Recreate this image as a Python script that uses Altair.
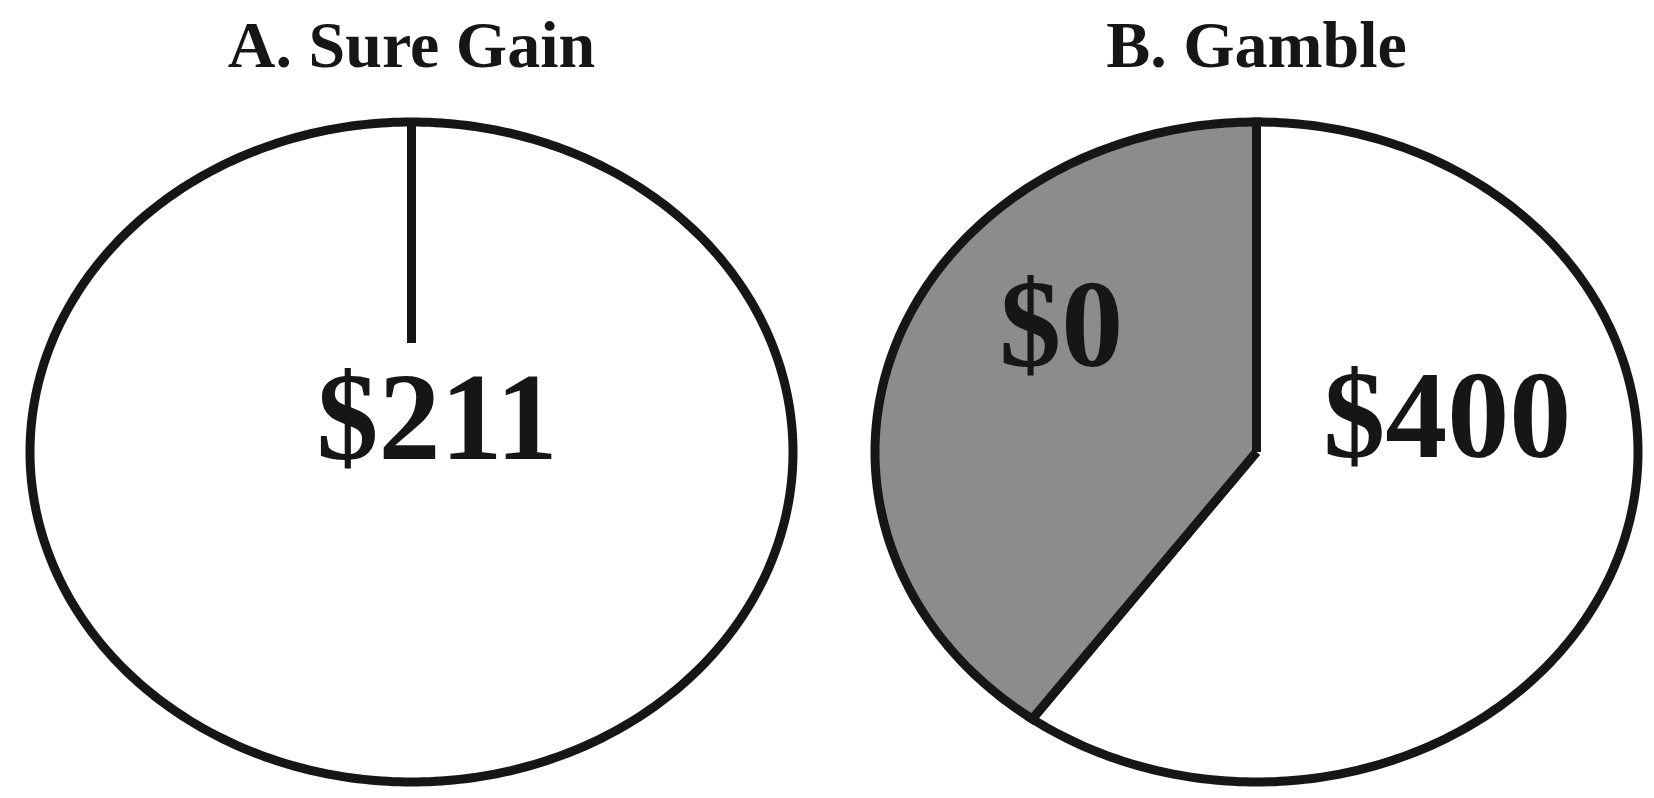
import altair as alt
import numpy as np
import pandas as pd

# ---- data ----
panel_ids = ["A", "B"]
panel_titles = ["A. Sure Gain", "B. Gamble"]
slice_panel = ["A", "B", "B"]
slice_labels = ["$211", "$400", "$0"]
slice_shares = [1.0, 0.6, 0.4]

# ---- layout / style (not data) ----
W, H = 1638, 782
RX, RY = 381.5, 330.0           # pixel size of one unit on x / y
CX_PX = {"A": 403.5, "B": 1248.5}
CY_PX = 444.0
CENTER = {k: (v - CX_PX["A"]) / RX for k, v in CX_PX.items()}
X_DOMAIN = [-CX_PX["A"] / RX, (W - CX_PX["A"]) / RX]
Y_DOMAIN = [-(H - CY_PX) / RY, CY_PX / RY]
TITLE_Y = (CY_PX - 59) / RY
LABEL_POS = {"$211": (0.067, -0.022), "$400": (0.50, -0.016), "$0": (-0.512, 0.26)}
FILL = {"$211": "#ffffff", "$400": "#ffffff", "$0": "#8c8c8c"}
INK = "#161616"
STROKE_W = 9
SURE_LINE_INNER = 0.33

# ---- geometry of the slices (unit ellipse, clockwise from 12 o'clock) ----
rows = []
start = {p: 0.0 for p in panel_ids}
for k, (p, lab, share) in enumerate(zip(slice_panel, slice_labels, slice_shares)):
    a0 = start[p] * 2 * np.pi
    a1 = (start[p] + share) * 2 * np.pi
    start[p] += share
    n = max(int(share * 400), 4)
    ang = np.linspace(a0, a1, n + 1)
    pts = [(CENTER[p] + np.sin(a), np.cos(a)) for a in ang]
    if share < 1:
        pts = [(CENTER[p], 0.0)] + pts + [(CENTER[p], 0.0)]
    for i, (x, y) in enumerate(pts):
        rows.append({"slice": k, "label": lab, "idx": i, "x": x, "y": y})
geo = pd.DataFrame(rows)

xs = alt.Scale(domain=X_DOMAIN, nice=False, zero=False)
ys = alt.Scale(domain=Y_DOMAIN, nice=False, zero=False)

layers = []
for k, lab in enumerate(slice_labels):
    layers.append(
        alt.Chart(geo)
        .transform_filter(alt.datum.slice == k)
        .mark_line(fill=FILL[lab], stroke=INK, strokeWidth=STROKE_W,
                   strokeJoin="miter", strokeCap="butt")
        .encode(
            x=alt.X("x:Q", scale=xs, axis=None),
            y=alt.Y("y:Q", scale=ys, axis=None),
            order=alt.Order("idx:Q"),
        )
    )

# the divider drawn on the sure-gain pie
sure = pd.DataFrame([
    {"x": CENTER[p], "y": 1.0, "y2": SURE_LINE_INNER}
    for p, s in zip(slice_panel, slice_shares) if s == 1.0
])
rule = alt.Chart(sure).mark_rule(stroke=INK, strokeWidth=STROKE_W, strokeCap="butt").encode(
    x=alt.X("x:Q", scale=xs, axis=None),
    y=alt.Y("y:Q", scale=ys, axis=None),
    y2="y2:Q",
)

titles = pd.DataFrame({"title": panel_titles,
                       "x": [CENTER[p] for p in panel_ids],
                       "y": [TITLE_Y] * len(panel_ids)})
title_layer = alt.Chart(titles).mark_text(
    font="Liberation Serif", fontWeight="bold", fontSize=66, color=INK,
    align="center", baseline="alphabetic",
).encode(x=alt.X("x:Q", scale=xs, axis=None), y=alt.Y("y:Q", scale=ys, axis=None), text="title:N")

labels = pd.DataFrame({
    "label": slice_labels,
    "x": [CENTER[p] + LABEL_POS[l][0] for p, l in zip(slice_panel, slice_labels)],
    "y": [LABEL_POS[l][1] for l in slice_labels],
})
label_layer = alt.Chart(labels).mark_text(
    font="Liberation Serif", fontWeight="bold", fontSize=124, color=INK,
    align="center", baseline="alphabetic",
).encode(x=alt.X("x:Q", scale=xs, axis=None), y=alt.Y("y:Q", scale=ys, axis=None), text="label:N")

chart = (
    alt.layer(*layers, rule, title_layer, label_layer)
    .properties(width=W, height=H, padding=0, autosize="none", background="white")
    .configure_view(stroke=None)
)

chart.save("out.html", embed_options={"renderer": "svg", "actions": False})
